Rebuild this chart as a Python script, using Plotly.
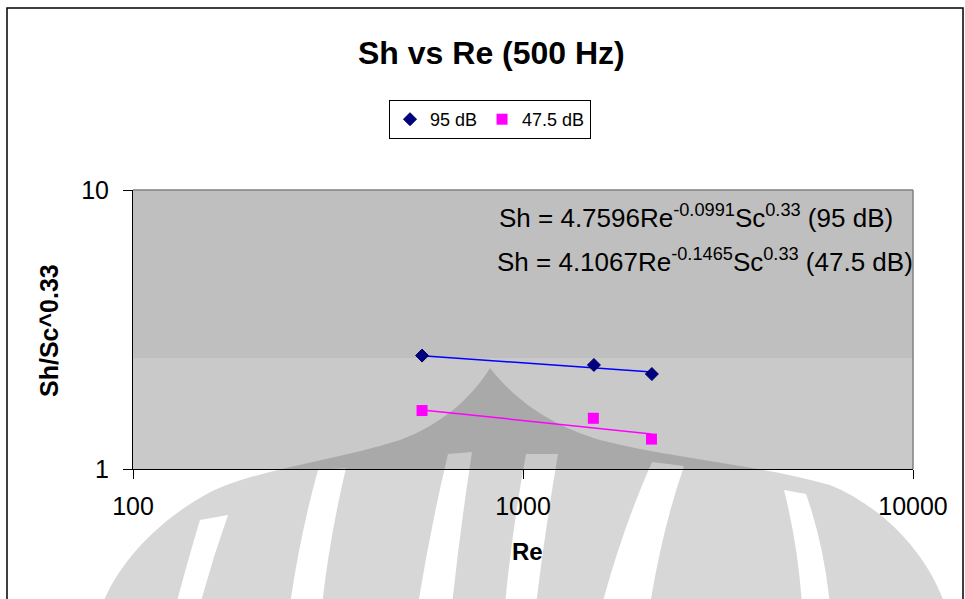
import numpy as np
import plotly.graph_objects as go

# Measured data: Reynolds number vs Sh/Sc^0.33 at 500 Hz
re_95 = [551, 1520, 2140]
sh_95 = [2.55, 2.36, 2.19]
re_475 = [551, 1515, 2135]
sh_475 = [1.62, 1.52, 1.28]

series_names = ["95 dB", "47.5 dB"]

# Power-law fit coefficients: Sh/Sc^0.33 = a * Re^b
fit_a = [4.7596, 4.1067]
fit_b = [-0.0991, -0.1465]
sc_exp = 0.33

x_ticks = [100, 1000, 10000]
y_ticks = [1, 10]

FONT = "Arial, 'Liberation Sans', sans-serif"

W, H = 965, 599
L, R, T, B = 133, 913, 190, 469  # plot area in pixels


def px(x):
    return (x - L) / (R - L)


def py(y):
    return (B - y) / (B - T)


def path(pts_cmds):
    """Build an SVG path in paper coordinates from pixel-space commands."""
    out = []
    for cmd, *xy in pts_cmds:
        coords = []
        for i in range(0, len(xy), 2):
            coords.append("%.5f,%.5f" % (px(xy[i]), py(xy[i + 1])))
        out.append(cmd + " ".join(coords))
    return " ".join(out) + " Z"


fig = go.Figure()

# Trendlines from the fitted equations
for re_vals, a, b, col in [(re_95, fit_a[0], fit_b[0], "#0000FF"),
                           (re_475, fit_a[1], fit_b[1], "#FF00FF")]:
    xs = np.logspace(np.log10(min(re_vals)), np.log10(max(re_vals)), 40)
    fig.add_trace(go.Scatter(x=xs, y=a * xs ** b, mode="lines",
                             line=dict(color=col, width=1.5),
                             showlegend=False, hoverinfo="skip"))

fig.add_trace(go.Scatter(x=re_95, y=sh_95, mode="markers", name=series_names[0],
                         marker=dict(symbol="diamond", size=10, color="#000080",
                                     line=dict(color="#000060", width=1))))
fig.add_trace(go.Scatter(x=re_475, y=sh_475, mode="markers", name=series_names[1],
                         marker=dict(symbol="square", size=11, color="#FF00FF",
                                     line=dict(width=0))))

axis_common = dict(
    type="log", showgrid=False, zeroline=False,
    showline=True, linecolor="black", linewidth=1,
    ticks="outside", ticklen=9, tickcolor="black", tickwidth=1,
    tickfont=dict(family=FONT, size=25, color="black"),
)

fig.update_xaxes(range=[2, 4], tickvals=x_ticks, ticktext=[str(v) for v in x_ticks],
                 ticklabelstandoff=6, **axis_common)
fig.update_yaxes(range=[0, 1], tickvals=y_ticks, ticktext=[str(v) for v in y_ticks],
                 ticklabelstandoff=9, **axis_common)

# Faint emblem printed behind the chart: a bell-shaped body with curved gaps
bell = [
    ("M", 490, 368),
    ("C", 470, 400, 440, 425, 400, 440),
    ("C", 330, 462, 250, 470, 205, 495),
    ("C", 160, 520, 120, 560, 102, 605),
    ("L", 945, 605),
    ("C", 930, 560, 890, 510, 830, 485),
    ("C", 760, 465, 670, 458, 600, 440),
    ("C", 550, 425, 515, 400, 490, 368),
]
gaps = [
    [("M", 200, 520), ("Q", 188, 560, 176, 605), ("L", 200, 605), ("Q", 212, 560, 228, 515)],
    [("M", 318, 470), ("Q", 300, 535, 290, 605), ("L", 322, 605), ("Q", 330, 535, 346, 468)],
    [("M", 448, 454), ("Q", 430, 530, 418, 605), ("L", 452, 605), ("Q", 460, 530, 472, 452)],
    [("M", 526, 454), ("Q", 512, 530, 505, 605), ("L", 536, 605), ("Q", 545, 530, 558, 454)],
    [("M", 652, 462), ("Q", 622, 530, 602, 605), ("L", 650, 605), ("Q", 662, 530, 684, 466)],
    [("M", 784, 490), ("Q", 798, 545, 802, 605), ("L", 830, 605), ("Q", 824, 545, 806, 494)],
]
emblem_path = path(bell) + " " + " ".join(path(g) for g in gaps)

shapes = [
    # plot-area fill, upper and lower tones
    dict(type="rect", xref="paper", yref="paper", x0=0, x1=1, y0=0, y1=1,
         fillcolor="#BFBFBF", line=dict(width=0), layer="below"),
    dict(type="rect", xref="paper", yref="paper", x0=0, x1=1, y0=0, y1=py(358),
         fillcolor="#C9C9C9", line=dict(width=0), layer="below"),
    dict(type="path", xref="paper", yref="paper", path=emblem_path,
         fillcolor="rgba(0,0,0,0.155)", line=dict(width=0), layer="below",
         fillrule="evenodd"),
    # outer chart frame
    dict(type="rect", xref="paper", yref="paper",
         x0=px(7), x1=px(963), y0=py(8), y1=py(640),
         line=dict(color="black", width=1.5), fillcolor="rgba(0,0,0,0)", layer="below"),
    # plot-area border (top and right in grey)
    dict(type="line", xref="paper", yref="paper", x0=0, x1=1, y0=1, y1=1,
         line=dict(color="#808080", width=1.5)),
    dict(type="line", xref="paper", yref="paper", x0=1, x1=1, y0=0, y1=1,
         line=dict(color="#808080", width=1.5)),
]

eq1 = "Sh = %.4fRe<sup>%.4f</sup>Sc<sup>%.2f</sup> (%s)" % (fit_a[0], fit_b[0], sc_exp, series_names[0])
eq2 = "Sh = %.4fRe<sup>%.4f</sup>Sc<sup>%.2f</sup> (%s)" % (fit_a[1], fit_b[1], sc_exp, series_names[1])

annotations = [
    dict(text="<b>Sh vs Re (500 Hz)</b>", x=px(491), y=py(53), xref="paper", yref="paper",
         showarrow=False, xanchor="center", yanchor="middle",
         font=dict(family=FONT, size=32, color="black")),
    dict(text="<b>Re</b>", x=px(527), y=py(551), xref="paper", yref="paper",
         showarrow=False, xanchor="center", yanchor="middle",
         font=dict(family=FONT, size=24, color="black")),
    dict(text="<b>Sh/Sc^0.33</b>", x=px(49), y=py(331), xref="paper", yref="paper",
         showarrow=False, xanchor="center", yanchor="middle", textangle=-90,
         font=dict(family=FONT, size=25, color="black")),
    dict(text=eq1, x=px(497), y=py(216), xref="paper", yref="paper",
         showarrow=False, xanchor="left", yanchor="middle",
         font=dict(family=FONT, size=26, color="black")),
    dict(text=eq2, x=px(495), y=py(260), xref="paper", yref="paper",
         showarrow=False, xanchor="left", yanchor="middle",
         font=dict(family=FONT, size=26, color="black")),
]

fig.update_layout(
    width=W, height=H,
    margin=dict(l=L, r=W - R, t=T, b=H - B, pad=0),
    paper_bgcolor="white", plot_bgcolor="rgba(0,0,0,0)",
    font=dict(family=FONT, color="black"),
    shapes=shapes, annotations=annotations,
    showlegend=True,
    legend=dict(orientation="h", x=px(490), y=py(100), xanchor="center", yanchor="top",
                bgcolor="white", bordercolor="black", borderwidth=1,
                font=dict(family=FONT, size=18, color="black"),
                itemwidth=30, tracegroupgap=0),
)

fig.write_html("out.html")
